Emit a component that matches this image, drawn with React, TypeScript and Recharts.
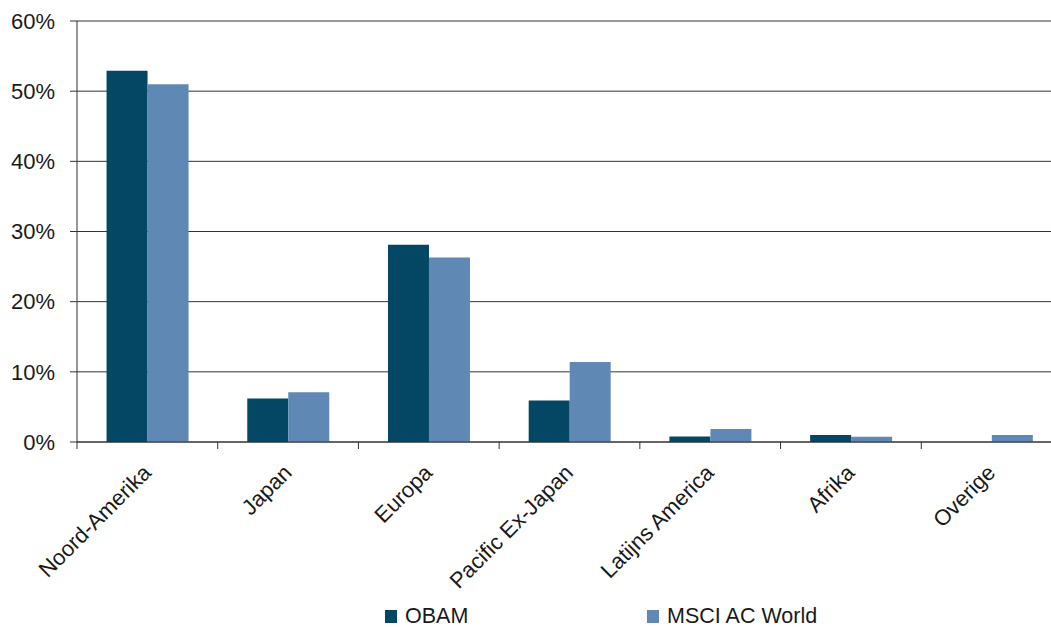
import * as React from "react";
import { BarChart, Bar, XAxis, YAxis, CartesianGrid, Legend } from "recharts";

const regions = [
  "Noord-Amerika",
  "Japan",
  "Europa",
  "Pacific Ex-Japan",
  "Latijns America",
  "Afrika",
  "Overige",
];
const obam = [52.9, 6.2, 28.1, 5.9, 0.8, 1.0, 0];
const msciWorld = [51.0, 7.1, 26.3, 11.4, 1.85, 0.75, 1.0];
const yTicks = [0, 10, 20, 30, 40, 50, 60];

const seriesNames = ["OBAM", "MSCI AC World"];
const colors = ["#034764", "#5F89B4"];

const data = regions.map((name, i) => ({
  name,
  obam: obam[i],
  msci: msciWorld[i],
}));

const FONT = "'Liberation Sans', Arial, sans-serif";
const TEXT = "#1a1a1a";
const LINE = "#333";

const chartWidth = 1070;
const plotLeft = 77;
const marginRight = 8;
const band = (chartWidth - plotLeft - marginRight) / regions.length;

function RegionTick(props: any) {
  const { x, y, payload } = props;
  const tx = x + 5;
  const ty = y + 32;
  return (
    <g>
      <line x1={x - band / 2} x2={x - band / 2} y1={y} y2={y + 7} stroke={LINE} />
      <text
        x={tx}
        y={ty}
        transform={`rotate(-45, ${tx}, ${ty})`}
        textAnchor="end"
        fontFamily={FONT}
        fontSize={22}
        fill={TEXT}
      >
        {payload.value}
      </text>
    </g>
  );
}

function LegendBox() {
  const lefts = [385, 647];
  return (
    <div style={{ position: "relative", height: 35, fontFamily: FONT, fontSize: 21.5, color: TEXT }}>
      {seriesNames.map((s, i) => (
        <div
          key={s}
          style={{
            position: "absolute",
            left: lefts[i],
            top: 14,
            height: 20,
            display: "flex",
            alignItems: "center",
            lineHeight: "20px",
            whiteSpace: "nowrap",
          }}
        >
          <span
            style={{
              display: "inline-block",
              width: 12,
              height: 13,
              background: colors[i],
              marginRight: 8,
            }}
          />
          {s}
        </div>
      ))}
    </div>
  );
}

export default function App() {
  return (
    <div
      style={{
        position: "absolute",
        top: 0,
        left: 0,
        width: 1051,
        height: 627,
        overflow: "hidden",
        background: "#fff",
      }}
    >
      <BarChart
        width={chartWidth}
        height={627}
        data={data}
        margin={{ top: 21, right: marginRight, left: 0, bottom: 0 }}
        barCategoryGap="21%"
        barGap={0}
      >
        <CartesianGrid vertical={false} stroke={LINE} />
        <XAxis
          dataKey="name"
          interval={0}
          height={150}
          tickSize={0}
          tickMargin={0}
          tickLine={false}
          axisLine={{ stroke: LINE }}
          tick={<RegionTick />}
        />
        <YAxis
          width={plotLeft}
          domain={[0, 60]}
          ticks={yTicks}
          tickFormatter={(v) => `${v}%`}
          tickSize={7}
          tickMargin={15}
          tickLine={{ stroke: LINE }}
          axisLine={{ stroke: LINE }}
          tick={{ fontFamily: FONT, fontSize: 22, fill: TEXT }}
        />
        <Legend
          verticalAlign="bottom"
          height={35}
          wrapperStyle={{ left: 0, width: chartWidth }}
          content={() => <LegendBox />}
        />
        <Bar dataKey="obam" name={seriesNames[0]} fill={colors[0]} isAnimationActive={false} />
        <Bar dataKey="msci" name={seriesNames[1]} fill={colors[1]} isAnimationActive={false} />
      </BarChart>
    </div>
  );
}
